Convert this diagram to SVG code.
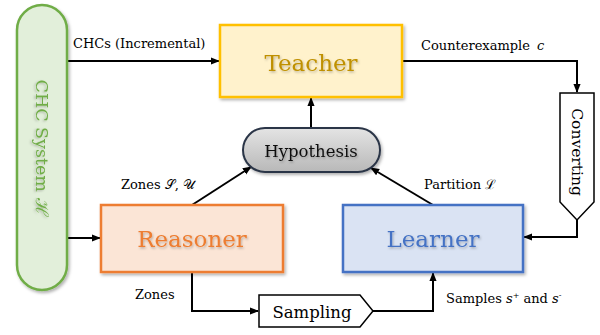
<svg xmlns="http://www.w3.org/2000/svg" width="600" height="335" viewBox="0 0 600 335">
<defs>
<style>
text{font-family:"DejaVu Serif","Liberation Serif",serif;}
.lbl{font-size:13px;fill:#000;}
.conn{fill:none;stroke:#000;stroke-width:2;}
.big{font-size:23px;text-anchor:middle;}
</style>
<marker id="ah" viewBox="0 0 10 10" refX="9" refY="5" markerWidth="4.5" markerHeight="4.5" orient="auto" markerUnits="strokeWidth">
<path d="M0,1 L10,5 L0,9 z" fill="#000"/>
</marker>
<filter id="sh" x="-10%" y="-10%" width="130%" height="140%">
<feDropShadow dx="1.5" dy="2" stdDeviation="1.5" flood-color="#000" flood-opacity="0.3"/>
</filter>
<filter id="tsh" x="-10%" y="-20%" width="130%" height="150%">
<feDropShadow dx="1" dy="1.5" stdDeviation="1" flood-color="#000" flood-opacity="0.25"/>
</filter>
<linearGradient id="hg" x1="0" y1="0" x2="0" y2="1">
<stop offset="0" stop-color="#e4e4e4"/>
<stop offset="1" stop-color="#b8b8b8"/>
</linearGradient>
</defs>
<rect width="600" height="335" fill="#fff"/>

<g id="connectors">
<path class="conn" d="M67,61 H219" marker-end="url(#ah)"/>
<path class="conn" d="M402,61 H577 V92" marker-end="url(#ah)"/>
<path class="conn" d="M577,220 V237 H524" marker-end="url(#ah)"/>
<path class="conn" d="M311,128 V98" marker-end="url(#ah)"/>
<path class="conn" d="M192,205 L251,167" marker-end="url(#ah)"/>
<path class="conn" d="M433,205 L371,168" marker-end="url(#ah)"/>
<path class="conn" d="M67,238 H100" marker-end="url(#ah)"/>
<path class="conn" d="M192,272 V311 H258" marker-end="url(#ah)"/>
<path class="conn" d="M373,311 H433 V273" marker-end="url(#ah)"/>
<text class="lbl" x="73" y="48">CHCs (Incremental)</text>
<text class="lbl" x="421" y="50">Counterexample <tspan font-style="italic" dx="3">c</tspan></text>
<text class="lbl" x="121" y="189">Zones 𝒮, 𝒰</text>
<text class="lbl" x="424" y="189">Partition ℒ</text>
<text class="lbl" x="135" y="299">Zones</text>
<text class="lbl" x="446" y="303" font-size="12">Samples <tspan font-style="italic">s</tspan><tspan font-size="8" dy="-5">+</tspan><tspan dy="5"> and </tspan><tspan font-style="italic">s</tspan><tspan font-size="8" dy="-5">-</tspan></text>
</g>

<g id="chc-system">
<rect x="17" y="5" width="50" height="285" rx="25" ry="25" fill="#e2efda" stroke="#70ad47" stroke-width="2.5" filter="url(#sh)"/>
<text transform="translate(42,148) rotate(90)" text-anchor="middle" dominant-baseline="central" font-size="17.5" fill="#70ad47" filter="url(#tsh)">CHC System ℋ</text>
</g>

<g id="teacher">
<rect x="220" y="25" width="182" height="72" fill="#fff2cc" stroke="#ffc000" stroke-width="2.5" filter="url(#sh)"/>
<text class="big" x="311" y="71" font-size="22.5" fill="#bf9000" filter="url(#tsh)">Teacher</text>
</g>

<g id="hypothesis">
<rect x="243" y="128" width="137" height="44" rx="22" ry="22" fill="url(#hg)" stroke="#2b3547" stroke-width="2" filter="url(#sh)"/>
<text x="311" y="157" text-anchor="middle" font-size="16.5" fill="#111" filter="url(#tsh)">Hypothesis</text>
</g>

<g id="reasoner">
<rect x="101" y="205" width="182" height="67" fill="#fbe5d6" stroke="#ed7d31" stroke-width="2.5" filter="url(#sh)"/>
<text class="big" x="192" y="247" fill="#ed7d31" filter="url(#tsh)">Reasoner</text>
</g>

<g id="learner">
<rect x="343" y="205" width="180" height="67" fill="#dae3f3" stroke="#4472c4" stroke-width="2.5" filter="url(#sh)"/>
<text class="big" x="433" y="247" fill="#4472c4" filter="url(#tsh)">Learner</text>
</g>

<g id="converting">
<path d="M560,93 H594 V202 L577,220 L560,202 Z" fill="#fff" stroke="#000" stroke-width="1.5"/>
<text transform="translate(577,152) rotate(90)" text-anchor="middle" dominant-baseline="central" font-size="15.5" fill="#000">Converting</text>
</g>

<g id="sampling">
<path d="M259,295 H360 L373,311 L360,327 H259 Z" fill="#fff" stroke="#000" stroke-width="1.5"/>
<text x="312" y="318" text-anchor="middle" font-size="16.5" fill="#000">Sampling</text>
</g>
</svg>
